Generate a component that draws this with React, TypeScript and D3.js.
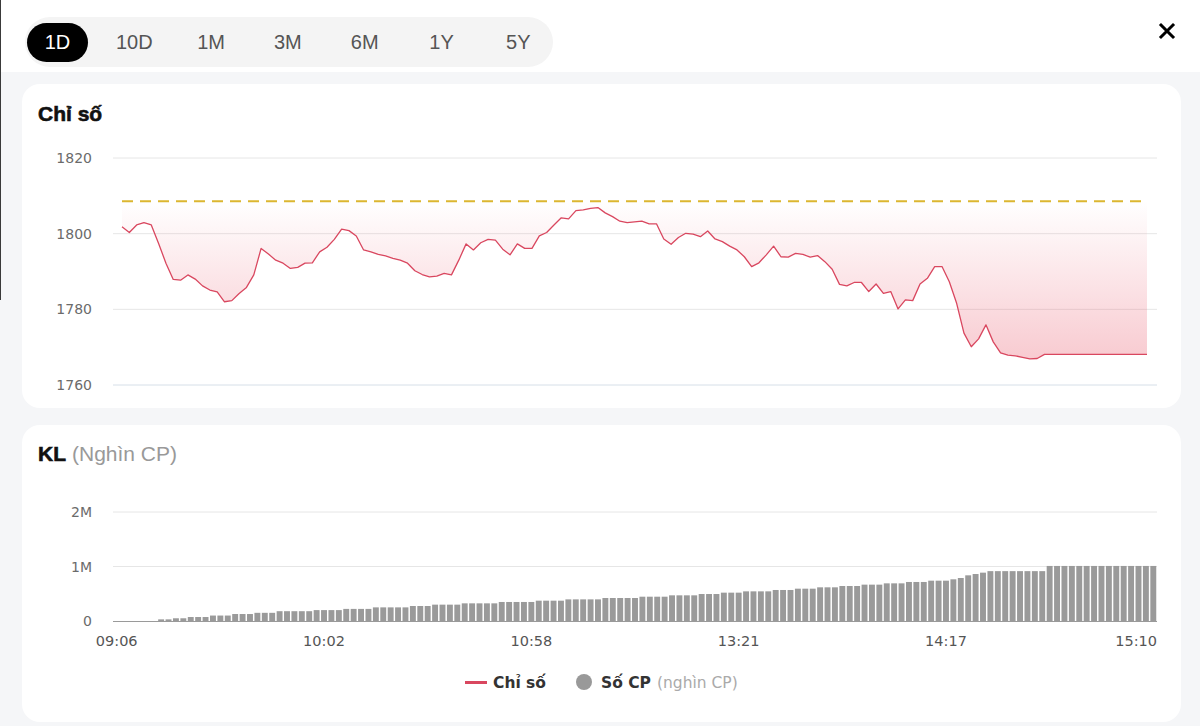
import React from "react";
import * as d3 from "d3";

const TABS = ["1D", "10D", "1M", "3M", "6M", "1Y", "5Y"];

const INDEX_VALUES = [
  1801.8, 1800.3, 1802.3, 1802.9, 1802.3, 1797.4, 1792.2, 1787.9, 1787.7, 1789.1,
  1788.0, 1786.2, 1785.1, 1784.6, 1782.0, 1782.3, 1784.2, 1785.8, 1789.1, 1796.1,
  1794.6, 1793.0, 1792.2, 1790.8, 1791.1, 1792.2, 1792.3, 1795.2, 1796.4, 1798.5,
  1801.2, 1800.8, 1799.4, 1795.7, 1795.2, 1794.5, 1794.1, 1793.5, 1793.0, 1792.2,
  1790.2, 1789.2, 1788.6, 1788.8, 1789.5, 1789.1, 1793.0, 1797.3, 1795.7, 1797.6,
  1798.5, 1798.3, 1795.9, 1794.4, 1797.3, 1796.1, 1796.1, 1799.4, 1800.3, 1802.3,
  1804.2, 1803.9, 1806.1, 1806.3, 1806.7, 1806.9, 1805.5, 1804.5, 1803.3, 1802.9,
  1803.1, 1803.3, 1802.6, 1802.6, 1798.6, 1797.2, 1799.0, 1800.1, 1799.9, 1799.2,
  1800.7, 1798.6, 1797.9, 1796.7, 1795.7, 1793.9, 1791.3, 1792.3, 1794.4, 1796.7,
  1793.9, 1793.8, 1794.8, 1794.5, 1793.8, 1794.2, 1792.6, 1790.6, 1786.6, 1786.2,
  1787.1, 1787.1, 1784.7, 1786.7, 1784.2, 1784.7, 1780.1, 1782.5, 1782.3, 1786.7,
  1788.2, 1791.3, 1791.3, 1787.3, 1781.6, 1773.7, 1770.1, 1772.2, 1775.9, 1771.4,
  1768.5, 1767.9, 1767.7, 1767.3, 1766.9, 1767.0, 1768.1, 1768.1, 1768.1, 1768.1,
  1768.1, 1768.1, 1768.1, 1768.1, 1768.1, 1768.1, 1768.1, 1768.1, 1768.1, 1768.1,
  1768.1,
];

const VOLUME_VALUES = [
  0, 0, 0, 0, 0, 0, 30000, 30000, 50000, 50000,
  73000, 73000, 73000, 100000, 100000, 100000, 128000, 128000, 128000, 150000,
  150000, 150000, 180000, 180000, 180000, 180000, 180000, 200000, 200000, 200000,
  200000, 222000, 222000, 222000, 222000, 250000, 250000, 250000, 250000, 250000,
  275000, 275000, 275000, 300000, 300000, 300000, 300000, 324000, 324000, 324000,
  324000, 324000, 349000, 349000, 349000, 349000, 349000, 373000, 373000, 373000,
  373000, 397000, 397000, 397000, 397000, 397000, 422000, 422000, 422000, 422000,
  422000, 446000, 446000, 446000, 446000, 471000, 471000, 471000, 471000, 495000,
  495000, 495000, 520000, 520000, 520000, 544000, 544000, 544000, 544000, 569000,
  569000, 569000, 593000, 593000, 593000, 618000, 618000, 618000, 642000, 642000,
  642000, 667000, 667000, 667000, 691000, 691000, 691000, 716000, 716000, 716000,
  740000, 740000, 740000, 765000, 789000, 838000, 862000, 887000, 915000, 915000,
  915000, 915000, 915000, 915000, 915000, 915000, 1010000, 1010000, 1010000, 1010000,
  1010000, 1010000, 1010000, 1010000, 1010000, 1010000, 1010000, 1010000, 1010000, 1010000,
  1010000,
];

const REFERENCE_VALUE = 1808.6;
const INDEX_TICKS = [1760, 1780, 1800, 1820];
const VOLUME_TICKS = [0, 1000000, 2000000];
const TIME_TICK_INDEX = [0, 28, 56, 84, 112, 140];
const TIME_TICK_LABELS = ["09:06", "10:02", "10:58", "13:21", "14:17", "15:10"];

const LABEL_FONT = "'DejaVu Sans', Verdana, sans-serif";
const UI_FONT = "'Liberation Sans', Arial, Helvetica, sans-serif";

export default function App() {
  const idx = INDEX_VALUES.map((_, i) => i);

  const xLine = d3.scalePoint<number>().domain(idx).range([122, 1147]);
  const yLine = d3.scaleLinear().domain([1760, 1820]).range([385, 158]);

  const linePath = d3
    .line<number>()
    .x((_, i) => xLine(i) as number)
    .y((d) => yLine(d))(INDEX_VALUES) as string;

  const areaPath = d3
    .area<number>()
    .x((_, i) => xLine(i) as number)
    .y0(() => yLine(REFERENCE_VALUE))
    .y1((d) => yLine(d))(INDEX_VALUES) as string;

  const xBar = d3.scaleBand<number>().domain(idx).range([113, 1157]).paddingInner(0.2).paddingOuter(0.1);
  const yBar = d3.scaleLinear().domain([0, 2000000]).range([621, 512]);
  const fmtVol = (v: number) => (v === 0 ? "0" : `${v / 1000000}M`);

  const minVal = d3.min(INDEX_VALUES) as number;

  return (
    <svg
      width={1200}
      height={726}
      viewBox="0 0 1200 726"
      style={{ position: "absolute", left: 0, top: 0, display: "block" }}
    >
      <defs>
        <linearGradient
          id="indexFill"
          gradientUnits="userSpaceOnUse"
          x1={0}
          x2={0}
          y1={yLine(REFERENCE_VALUE)}
          y2={yLine(minVal)}
        >
          <stop offset="0" stopColor="rgb(232,80,100)" stopOpacity={0.0} />
          <stop offset="1" stopColor="rgb(232,80,100)" stopOpacity={0.3} />
        </linearGradient>
      </defs>

      <rect x={0} y={0} width={1200} height={726} fill="#ffffff" />
      <rect x={0} y={72} width={1200} height={654} fill="#f5f6f8" />
      <line x1={0.5} x2={0.5} y1={0} y2={300} stroke="#3a3a3a" strokeWidth={1} />

      <rect x={25} y={17} width={528} height={50} rx={25} fill="#f4f4f4" />
      <rect x={27} y={23} width={61} height={39} rx={19.5} fill="#000000" />
      {TABS.map((t, i) => (
        <text
          key={t}
          x={57.5 + i * 76.8}
          y={42}
          dy="0.36em"
          textAnchor="middle"
          fontFamily={UI_FONT}
          fontSize={20}
          fill={i === 0 ? "#ffffff" : "#555555"}
        >
          {t}
        </text>
      ))}

      <path d="M1161,25 L1173,37 M1173,25 L1161,37" stroke="#000" strokeWidth={3} strokeLinecap="square" />

      <rect x={22} y={84} width={1159} height={324} rx={18} fill="#ffffff" />
      <rect x={22} y={425} width={1159} height={297} rx={18} fill="#ffffff" />

      <text
        x={38}
        y={121}
        fontFamily={UI_FONT}
        fontWeight={700}
        fontSize={21}
        fill="#111"
        stroke="#111"
        strokeWidth={0.6}
      >
        Chỉ số
      </text>

      {INDEX_TICKS.map((t) => (
        <g key={t}>
          <line
            x1={113}
            x2={1157}
            y1={yLine(t)}
            y2={yLine(t)}
            stroke={t === 1760 ? "#d6dfe8" : "#e6e6e6"}
            strokeWidth={1}
          />
          <text
            x={92}
            y={yLine(t)}
            dy="0.36em"
            textAnchor="end"
            fontFamily={LABEL_FONT}
            fontSize={14}
            fill="#6b6b6b"
          >
            {t}
          </text>
        </g>
      ))}

      <path d={areaPath} fill="url(#indexFill)" />
      <line
        x1={xLine(0) as number}
        x2={xLine(INDEX_VALUES.length - 1) as number}
        y1={yLine(REFERENCE_VALUE)}
        y2={yLine(REFERENCE_VALUE)}
        stroke="#dcb630"
        strokeWidth={2}
        strokeDasharray="11 7"
      />
      <path d={linePath} fill="none" stroke="#d9475f" strokeWidth={1.3} strokeLinejoin="round" />

      <text x={38} y={461} fontFamily={UI_FONT} fontSize={21} fill="#999">
        <tspan fontWeight={700} fill="#111" stroke="#111" strokeWidth={0.6}>KL</tspan>
        <tspan dx={6}>(Nghìn CP)</tspan>
      </text>

      {VOLUME_TICKS.map((t) => (
        <g key={t}>
          {t !== 0 && (
            <line x1={113} x2={1157} y1={yBar(t)} y2={yBar(t)} stroke="#e6e6e6" strokeWidth={1} />
          )}
          <text
            x={92}
            y={yBar(t)}
            dy="0.36em"
            textAnchor="end"
            fontFamily={LABEL_FONT}
            fontSize={14}
            fill="#6b6b6b"
          >
            {fmtVol(t)}
          </text>
        </g>
      ))}

      {VOLUME_VALUES.map((v, i) => (
        <rect
          key={i}
          x={xBar(i) as number}
          y={yBar(v)}
          width={xBar.bandwidth()}
          height={yBar(0) - yBar(v)}
          fill="#9a9a9a"
        />
      ))}
      <line x1={113} x2={1157} y1={yBar(0) + 0.5} y2={yBar(0) + 0.5} stroke="#9a9a9a" strokeWidth={1} />

      {TIME_TICK_INDEX.map((ti, k) => {
        const last = k === TIME_TICK_INDEX.length - 1;
        const cx = (xBar(ti) as number) + xBar.bandwidth() / 2;
        return (
          <text
            key={ti}
            x={last ? 1157 : cx}
            y={646}
            textAnchor={last ? "end" : "middle"}
            fontFamily={LABEL_FONT}
            fontSize={14.5}
            fill="#555"
          >
            {TIME_TICK_LABELS[k]}
          </text>
        );
      })}

      <line x1={465} x2={487} y1={682.5} y2={682.5} stroke="#d9475f" strokeWidth={3} />
      <text x={493} y={688} fontFamily={LABEL_FONT} fontWeight={700} fontSize={15.5} fill="#333">
        Chỉ số
      </text>
      <circle cx={584} cy={682} r={8} fill="#999" />
      <text x={601} y={688} fontFamily={LABEL_FONT} fontSize={15.5} fill="#aaa">
        <tspan fontWeight={700} fill="#333">Số CP</tspan>
        <tspan dx={6}>(nghìn CP)</tspan>
      </text>
    </svg>
  );
}
